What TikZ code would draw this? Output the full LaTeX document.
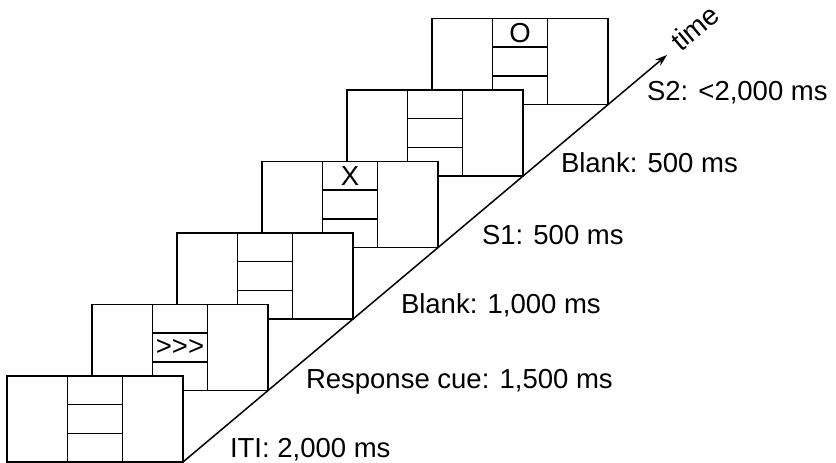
\documentclass[tikz,border=0pt]{standalone}
\usepackage{fontspec}
\setmainfont{Liberation Sans}
\usepackage{tikz}
\usetikzlibrary{positioning,arrows.meta}

\begin{document}
\begin{tikzpicture}[x=1pt,y=-1pt,line cap=rect,
    screen/.style={draw=black, fill=white, line width=1.8pt, minimum width=176pt, minimum height=86pt, inner sep=0pt, outer sep=0pt},
    cell/.style={draw=black, fill=white, line width=1.5pt, minimum width=55pt, minimum height=28.67pt, inner sep=0pt, outer sep=0pt, font=\fontsize{27.5pt}{27.5pt}\selectfont},
    phase/.style={inner sep=0pt, outer sep=0pt, anchor=base west, font=\fontsize{27.5pt}{27.5pt}\selectfont}]
  \useasboundingbox (0,0) rectangle (836,463);
  % S2
  \node[screen] (s6) at (520,61.5) {};
  \node[cell, below=0pt of s6.north] (s6a) {O};
  \node[cell, below=0pt of s6a] (s6b) {};
  \node[cell, below=0pt of s6b] (s6c) {};
  % blank
  \node[screen] (s5) at (435,133) {};
  \node[cell, below=0pt of s5.north] (s5a) {};
  \node[cell, below=0pt of s5a] (s5b) {};
  \node[cell, below=0pt of s5b] (s5c) {};
  % S1
  \node[screen] (s4) at (350,204.5) {};
  \node[cell, below=0pt of s4.north] (s4a) {X};
  \node[cell, below=0pt of s4a] (s4b) {};
  \node[cell, below=0pt of s4b] (s4c) {};
  % blank
  \node[screen] (s3) at (265,276) {};
  \node[cell, below=0pt of s3.north] (s3a) {};
  \node[cell, below=0pt of s3a] (s3b) {};
  \node[cell, below=0pt of s3b] (s3c) {};
  % response cue
  \node[screen] (s2) at (180,347.5) {};
  \node[cell, below=0pt of s2.north] (s2a) {};
  \node[cell, below=0pt of s2a] (s2b) {>\kern0pt>\kern0pt>};
  \node[cell, below=0pt of s2b] (s2c) {};
  % ITI
  \node[screen] (s1) at (95,419) {};
  \node[cell, below=0pt of s1.north] (s1a) {};
  \node[cell, below=0pt of s1a] (s1b) {};
  \node[cell, below=0pt of s1b] (s1c) {};
  % time axis
  \coordinate (tip) at (667,55);
  \draw[line width=1.5pt, line cap=butt, -{Stealth[length=12pt,width=8pt]}] (s1.south east) -- (tip);
  \node[phase, rotate=40, font=\fontsize{28pt}{28pt}\selectfont] (tm) at (681,52) {time};
  % durations
  \node[phase] (p1) at (230,457.5) {ITI: 2,000 ms};
  \node[phase] (p2) at (306,388) {Response cue: 1,500 ms};
  \node[phase] (p3) at (401,313) {Blank: 1,000 ms};
  \node[phase] (p4) at (482,244) {S1: 500 ms};
  \node[phase] (p5) at (561,172) {Blank: 500 ms};
  \node[phase] (p6) at (647,100) {S2: <2,000 ms};
\end{tikzpicture}
\end{document}
